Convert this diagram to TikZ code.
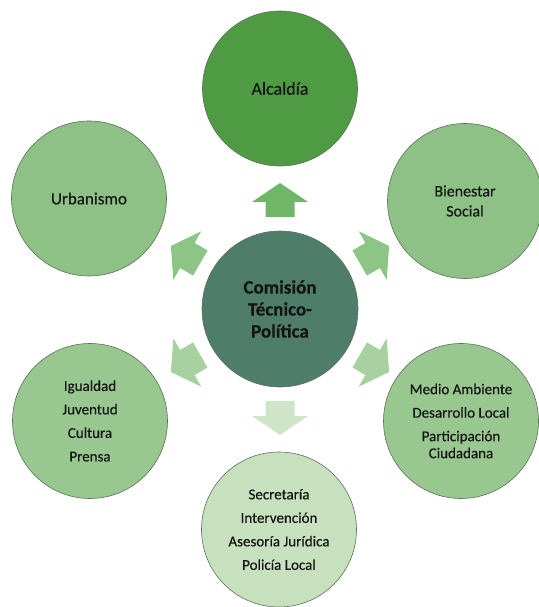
\documentclass[tikz,border=0pt]{standalone}
\usepackage{fontspec}
\setmainfont{Carlito}[FakeBold=0.35]
\newfontfamily\thick{Carlito}[FakeBold=0.35]
\definecolor{cCenter}{HTML}{4E7E69}
\definecolor{cTop}{HTML}{4F9B44}
\definecolor{cMid}{HTML}{8DC185}
\definecolor{cLow}{HTML}{98C78F}
\definecolor{cBot}{HTML}{C7E0BE}
\definecolor{aTop}{HTML}{70B667}
\definecolor{aMid}{HTML}{8DC586}
\definecolor{aLow}{HTML}{A9D0A1}
\definecolor{aBot}{HTML}{CFE5C8}
\definecolor{cLine}{HTML}{5F6F5C}
\definecolor{cText}{HTML}{151515}
\begin{document}
\begin{tikzpicture}[x=1pt,y=1pt,
  circ/.style={circle, draw=cLine, line width=0.6pt, minimum size=155pt, inner sep=0pt, align=center, text=cText},
  lst/.style={font=\thick\fontsize{15}{23.5}\selectfont}]
\useasboundingbox (0,0) rectangle (538,607);
\node[circ, fill=cCenter, minimum size=156pt, font=\bfseries\fontsize{19}{22}\selectfont] (c) at (280,298) {Comisión\\Técnico-\\Política};
\node[circ, fill=cTop, font=\thick\fontsize{18}{20}\selectfont] (alc) at (280,518.5) {Alcaldía};
\node[circ, fill=cMid, font=\thick\fontsize{17}{20}\selectfont] (urb) at (89,408.5) {Urbanismo};
\node[circ, fill=cMid, font=\thick\fontsize{16}{20}\selectfont] (bie) at (465,406) {Bienestar\\Social};
\node[circ, fill=cLow, lst] (igu) at (90,186) {Igualdad\\Juventud\\Cultura\\Prensa};
\node[circ, fill=cLow, lst] (med) at (461,186) {Medio Ambiente\\Desarrollo Local\\Participación\\[-6.5pt]Ciudadana};
\node[circ, fill=cBot, lst] (sec) at (279,77.5) {Secretaría\\Intervención\\Asesoría Jurídica\\Policía Local};
\foreach \ang/\col in {90/aTop,150/aMid,30/aMid,210/aLow,330/aLow,270/aBot}{
  \fill[\col, shift={(c.center)}, rotate=\ang]
    (92,-14.5) -- (107,-14.5) -- (107,-28) -- (126,0) -- (107,28) -- (107,14.5) -- (92,14.5) -- cycle;
}
\end{tikzpicture}
\end{document}
